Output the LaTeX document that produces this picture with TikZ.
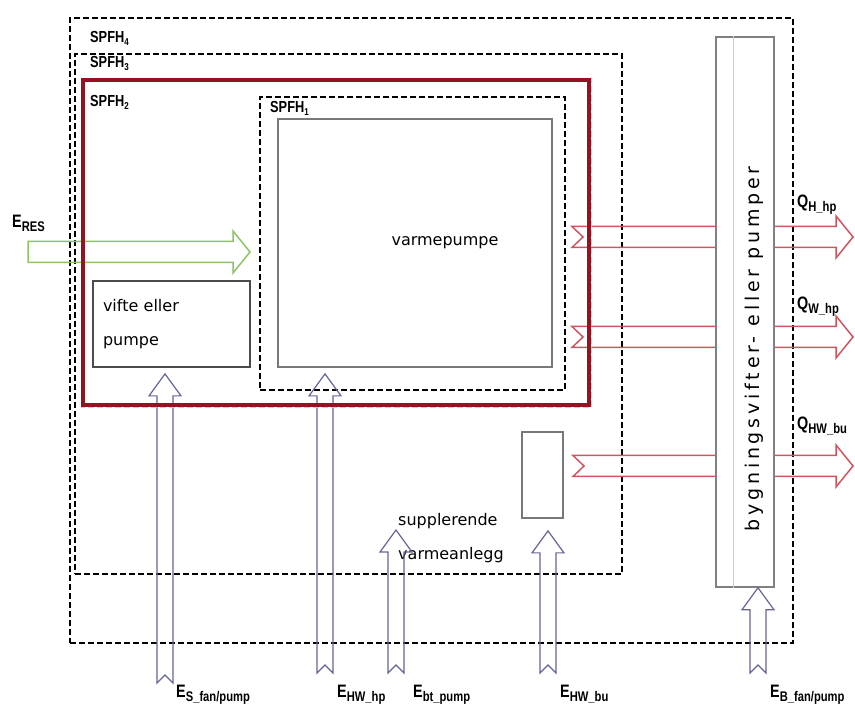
\documentclass[tikz,border=0pt]{standalone}
\usepackage{fontspec}
\setmainfont{DejaVu Sans}
\newfontfamily\labelfont[FakeStretch=0.8]{Liberation Sans}
\newfontfamily\bygfont[LetterSpace=20]{DejaVu Sans}
\usepackage{tikz}
\usetikzlibrary{calc,positioning}
\definecolor{hpred}{RGB}{145,20,35}
\definecolor{flowred}{RGB}{205,85,95}
\definecolor{flowblue}{RGB}{100,100,150}
\definecolor{flowgreen}{RGB}{140,195,100}
\definecolor{boxgrey}{RGB}{120,120,120}

\newcommand{\flowsub}[1]{\raisebox{-4pt}{\fontsize{14}{14}\selectfont #1}}
% hollow arrow to the right: style, tail, tip, notch depth
\newcommand{\flowright}[4]{%
  \draw[#1] let \p1=(#2), \p2=(#3) in
    (\x1,\y1+10.5pt) -- (\x2-17pt,\y1+10.5pt) -- (\x2-17pt,\y1+21pt) -- (\x2,\y1)
    -- (\x2-17pt,\y1-21pt) -- (\x2-17pt,\y1-10.5pt) -- (\x1,\y1-10.5pt) -- (\x1+#4,\y1) -- cycle;}
% hollow arrow upwards: style, tail, tip
\newcommand{\flowup}[3]{%
  \draw[#1] let \p1=(#2), \p2=(#3) in
    (\x1+8pt,\y1) -- (\x1+8pt,\y2-22pt) -- (\x1+16pt,\y2-22pt) -- (\x1,\y2)
    -- (\x1-16pt,\y2-22pt) -- (\x1-8pt,\y2-22pt) -- (\x1-8pt,\y1) -- (\x1,\y1+8pt) -- cycle;}

\tikzset{
  spfh/.style={draw=black,line width=2pt,dash pattern=on 6pt off 3pt,inner sep=0pt},
  greybox/.style={draw=boxgrey,line width=1.8pt,inner sep=0pt},
  qflow/.style={draw=flowred,line width=1.5pt},
  eflow/.style={draw=flowblue,line width=1.2pt},
  resflow/.style={draw=flowgreen,line width=1.5pt},
  spfhlabel/.style={font=\labelfont\bfseries\fontsize{16}{18}\selectfont,anchor=base west,inner sep=0pt},
  flowlabel/.style={font=\labelfont\bfseries\fontsize{18}{20}\selectfont,anchor=base west,inner sep=0pt},
  boxtext/.style={font=\fontsize{16}{34}\selectfont,align=left}
}

\begin{document}
\begin{tikzpicture}[x=1pt,y=-1pt]
  \useasboundingbox (0,0) rectangle (855,708);

  % systemgrenser
  \node[spfh,minimum width=723,minimum height=625] (spfh4) at (431.5,330.5) {};
  \node[spfh,minimum width=547,minimum height=520] (spfh3) at (348.5,314) {};
  \node[spfh,minimum width=305,minimum height=293] (spfh1) at (412.5,243.5) {};

  % komponenter
  \node[greybox,minimum width=274,minimum height=248] (vp) at (415,243) {};
  \node[boxtext] (vptext) at ([xshift=30pt]vp.center) {varmepumpe};
  \node[greybox,boxtext,draw=black!70,minimum width=157,minimum height=86,
        text width=137,inner xsep=10pt] (vifte) at (171.5,324) {vifte eller\\pumpe};
  \node[greybox,minimum width=41,minimum height=86] (sup) at (542.5,475) {};
  \node[boxtext] (suptext) at (451,538) {supplerende\\varmeanlegg};

  % energi inn
  \coordinate (eres tail) at (28,252);
  \coordinate (eres tip) at (250,252);
  \flowright{resflow}{eres tail}{eres tip}{0pt}

  \coordinate (es tail) at (165,683);
  \coordinate (ehw tail) at (325,673);
  \coordinate (ebt tail) at (396,673);
  \coordinate (ebt tip) at (396,530);
  \coordinate (ebu tail) at (548,673);
  \coordinate (eb tail) at (758,673);
  \flowup{eflow}{es tail}{$(vifte.south)+(0,6)$}
  \flowup{eflow}{ehw tail}{$(vp.south)+(0,6)$}
  \flowup{eflow}{ebt tail}{ebt tip}
  \flowup{eflow}{ebu tail}{$(sup.south)+(0,12)$}

  % varme ut
  \coordinate (qh tail) at (572,237);
  \coordinate (qh tip) at (853,237);
  \coordinate (qw tail) at (572,337);
  \coordinate (qw tip) at (853,337);
  \coordinate (qbu tail) at (573,466);
  \coordinate (qbu tip) at (853,466);
  \flowright{qflow}{qh tail}{qh tip}{11pt}
  \flowright{qflow}{qw tail}{qw tip}{11pt}
  \flowright{qflow}{qbu tail}{qbu tip}{11pt}

  % SPFH2 (rød)
  \node[draw=hpred,line width=4.5pt,inner sep=0pt,minimum width=506,minimum height=325] (spfh2) at (336,242.5) {};
  \draw[white!75!hpred,line width=1pt,dash pattern=on 6pt off 3pt]
    ([yshift=1pt]spfh2.north east) -- (spfh2.south east) -- (spfh2.south west);

  % bygningsvifter
  \node[greybox,draw=black!50,line width=1.5pt,fill=white,minimum width=58,minimum height=550] (byg) at (745,312) {};
  \draw[black!20,line width=1pt] ($(byg.north west)+(18,0)$) -- ($(byg.south west)+(18,0)$);
  \node[rotate=90,font=\bygfont\fontsize{19}{22}\selectfont] (bygtext) at (754,349) {bygningsvifter- eller pumper};
  \flowup{eflow}{eb tail}{byg.south}

  % etiketter
  \node[spfhlabel] (l4) at (90,43) {SPFH\raisebox{-3pt}{\fontsize{10}{10}\selectfont 4}};
  \node[spfhlabel] (l3) at (90,68) {SPFH\raisebox{-3pt}{\fontsize{10}{10}\selectfont 3}};
  \node[spfhlabel] (l2) at (90,107) {SPFH\raisebox{-3pt}{\fontsize{10}{10}\selectfont 2}};
  \node[spfhlabel] (l1) at (270,113) {SPFH\raisebox{-3pt}{\fontsize{10}{10}\selectfont 1}};

  \node[flowlabel] (eres) at (12,228) {E\flowsub{RES}};
  \node[flowlabel] (qh) at (797,208) {Q\flowsub{H\_hp}};
  \node[flowlabel] (qw) at (797,310) {Q\flowsub{W\_hp}};
  \node[flowlabel] (qbu) at (797,430) {Q\flowsub{HW\_bu}};
  \node[flowlabel] (es) at (176,697) {E\flowsub{S\_fan/pump}};
  \node[flowlabel] (ehw) at (337,697) {E\flowsub{HW\_hp}};
  \node[flowlabel] (ebt) at (413,697) {E\flowsub{bt\_pump}};
  \node[flowlabel] (ebu) at (560,697) {E\flowsub{HW\_bu}};
  \node[flowlabel] (eb) at (770,697) {E\flowsub{B\_fan/pump}};
\end{tikzpicture}
\end{document}
